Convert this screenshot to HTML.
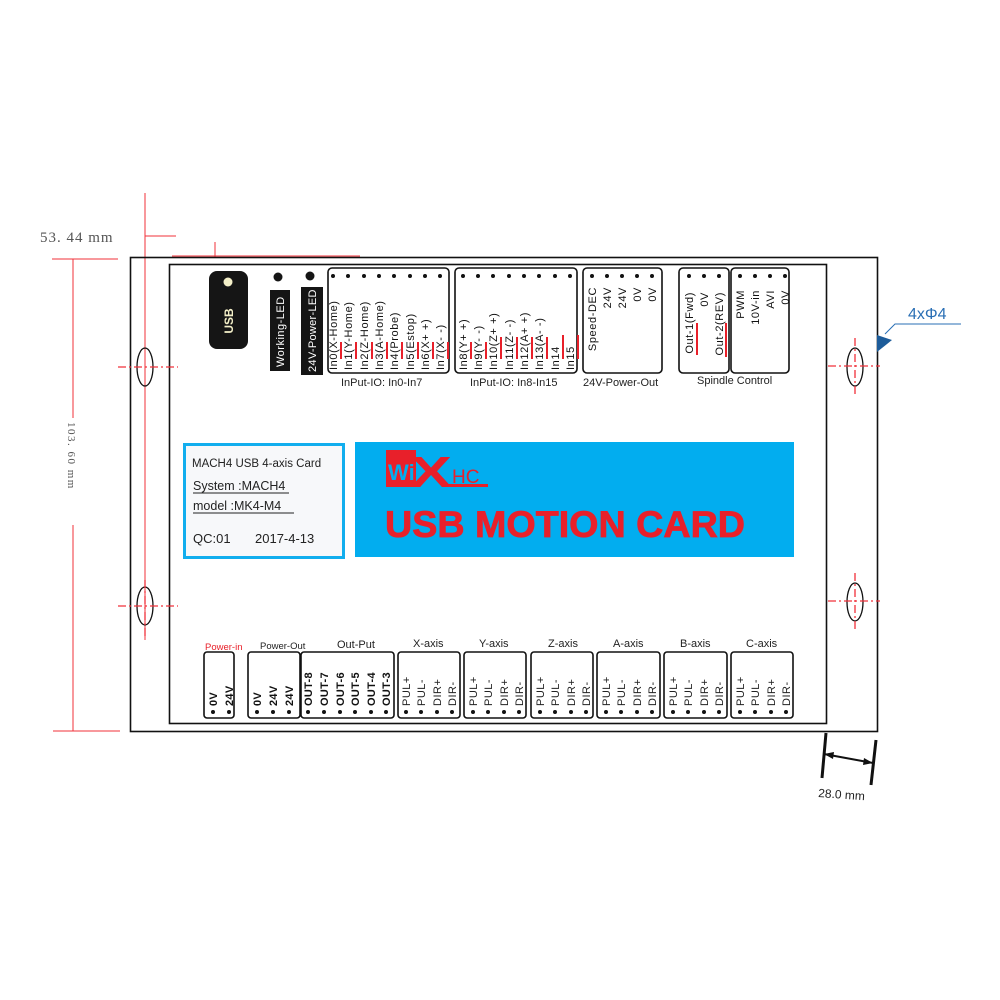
<!DOCTYPE html>
<html><head><meta charset="utf-8"><style>
html,body{margin:0;padding:0;background:#fff;}
svg{display:block}
.lbl{font-family:"Liberation Sans",sans-serif;font-size:11px;fill:#111;letter-spacing:0.6px;}
.b{font-family:"Liberation Sans",sans-serif;font-size:11px;font-weight:bold;fill:#111;letter-spacing:0.3px;}
</style></head><body>
<svg width="1000" height="1000" viewBox="0 0 1000 1000" xmlns="http://www.w3.org/2000/svg">
<g stroke="#f0303a" stroke-width="1" fill="none">
<line x1="145" y1="193" x2="145" y2="640"/>
<line x1="145" y1="236" x2="176" y2="236"/>
<line x1="172" y1="256" x2="360" y2="256"/>
<line x1="215" y1="242" x2="215" y2="257"/>
<line x1="52" y1="259" x2="118" y2="259"/>
<line x1="73" y1="259" x2="73" y2="418"/>
<line x1="73" y1="525" x2="73" y2="731"/>
<line x1="53" y1="731" x2="120" y2="731"/>
</g>
<text x="40" y="242" font-family="Liberation Serif,serif" font-size="15" fill="#555" letter-spacing="1">53. 44 mm</text>
<text transform="translate(68,422) rotate(90)" font-family="Liberation Serif,serif" font-size="11" fill="#555" letter-spacing="1.5">103. 60 mm</text>

<rect x="130.5" y="257.5" width="747" height="474" fill="none" stroke="#111" stroke-width="1.6"/>
<rect x="169.5" y="264.5" width="657" height="459" fill="none" stroke="#111" stroke-width="1.6"/>

<g fill="none">
<g stroke="#111" stroke-width="1.3">
<ellipse cx="145" cy="367" rx="8" ry="19"/><ellipse cx="145" cy="606" rx="8" ry="19"/>
<ellipse cx="855" cy="367" rx="8" ry="19"/><ellipse cx="855" cy="602" rx="8" ry="19"/>
</g>
<g stroke="#f0303a" stroke-width="1.3" stroke-dasharray="8,3,2,3">
<line x1="118" y1="367" x2="178" y2="367"/><line x1="118" y1="606" x2="178" y2="606"/>
<line x1="828" y1="366" x2="880" y2="366"/><line x1="828" y1="601" x2="880" y2="601"/>
<line x1="855" y1="338" x2="855" y2="394"/><line x1="855" y1="573" x2="855" y2="630"/>
<line x1="145" y1="580" x2="145" y2="636"/>
</g>
</g>

<text x="908" y="319" font-family="Liberation Sans,sans-serif" font-size="16" fill="#2a6fb5">4xΦ4</text>
<polyline points="961,324 895,324 885,334" fill="none" stroke="#2a6fb5" stroke-width="1"/>
<polygon points="877,335 892,340 877,352" fill="#1d5c9a"/>

<g stroke="#111" stroke-width="3">
<line x1="826" y1="733" x2="822" y2="778"/>
<line x1="876" y1="740" x2="871" y2="785"/>
<line x1="824" y1="754" x2="873" y2="763" stroke-width="2"/>
</g>
<polygon points="824,754 834,752 833,759" fill="#111"/>
<polygon points="873,763 863,765 864,758" fill="#111"/>
<text transform="translate(818,797) rotate(4)" font-family="Liberation Sans,sans-serif" font-size="12" fill="#222">28.0 mm</text>

<rect x="209" y="271" width="39" height="78" rx="8" fill="#151515"/>
<circle cx="228" cy="282" r="4.5" fill="#f3efc8"/>
<text transform="translate(233,321) rotate(-90)" text-anchor="middle" font-family="Liberation Sans,sans-serif" font-weight="bold" font-size="12" fill="#f3efc8">USB</text>
<circle cx="278" cy="277" r="4.5" fill="#151515"/>
<circle cx="310" cy="276" r="4.5" fill="#151515"/>
<rect x="270" y="290" width="20" height="81" fill="#151515"/>
<rect x="301" y="287" width="22" height="88" fill="#151515"/>
<text transform="translate(284,367) rotate(-90)" font-family="Liberation Sans,sans-serif" font-size="11" fill="#fff" letter-spacing="0.5">Working-LED</text>
<text transform="translate(316,372) rotate(-90)" font-family="Liberation Sans,sans-serif" font-size="11" fill="#fff" letter-spacing="0.3">24V-Power-LED</text>

<g fill="none" stroke="#111" stroke-width="1.6">
<rect x="328" y="268" width="121" height="105" rx="4"/>
<rect x="455" y="268" width="122" height="105" rx="4"/>
<rect x="583" y="268" width="79" height="105" rx="4"/>
<rect x="679" y="268" width="50" height="105" rx="4"/>
<rect x="731" y="268" width="58" height="105" rx="4"/>
</g>
<g fill="#111">
<circle cx="333" cy="276" r="2"/><circle cx="348" cy="276" r="2"/><circle cx="364" cy="276" r="2"/><circle cx="379" cy="276" r="2"/><circle cx="394" cy="276" r="2"/><circle cx="410" cy="276" r="2"/><circle cx="425" cy="276" r="2"/><circle cx="440" cy="276" r="2"/>
<circle cx="463" cy="276" r="2"/><circle cx="478" cy="276" r="2"/><circle cx="493" cy="276" r="2"/><circle cx="509" cy="276" r="2"/><circle cx="524" cy="276" r="2"/><circle cx="539" cy="276" r="2"/><circle cx="555" cy="276" r="2"/><circle cx="570" cy="276" r="2"/>
<circle cx="592" cy="276" r="2"/><circle cx="607" cy="276" r="2"/><circle cx="622" cy="276" r="2"/><circle cx="637" cy="276" r="2"/><circle cx="652" cy="276" r="2"/>
<circle cx="689" cy="276" r="2"/><circle cx="704" cy="276" r="2"/><circle cx="719" cy="276" r="2"/>
<circle cx="740" cy="276" r="2"/><circle cx="755" cy="276" r="2"/><circle cx="770" cy="276" r="2"/><circle cx="785" cy="276" r="2"/>
</g>
<g>
<text class="lbl" transform="translate(337,370) rotate(-90)">In0(X-Home)</text>
<text class="lbl" transform="translate(352,370) rotate(-90)">In1(Y-Home)</text>
<text class="lbl" transform="translate(368,370) rotate(-90)">In2(Z-Home)</text>
<text class="lbl" transform="translate(383,370) rotate(-90)">In3(A-Home)</text>
<text class="lbl" transform="translate(398,370) rotate(-90)">In4(Probe)</text>
<text class="lbl" transform="translate(414,370) rotate(-90)">In5(Estop)</text>
<text class="lbl" transform="translate(429,370) rotate(-90)">In6(X+ +)</text>
<text class="lbl" transform="translate(444,370) rotate(-90)">In7(X- -)</text>
<text class="lbl" transform="translate(467,370) rotate(-90)">In8(Y+ +)</text>
<text class="lbl" transform="translate(482,370) rotate(-90)">In9(Y- -)</text>
<text class="lbl" transform="translate(497,370) rotate(-90)">In10(Z+ +)</text>
<text class="lbl" transform="translate(513,370) rotate(-90)">In11(Z- -)</text>
<text class="lbl" transform="translate(528,370) rotate(-90)">In12(A+ +)</text>
<text class="lbl" transform="translate(543,370) rotate(-90)">In13(A- -)</text>
<text class="lbl" transform="translate(559,370) rotate(-90)">In14</text>
<text class="lbl" transform="translate(574,370) rotate(-90)">In15</text>
<text class="lbl" text-anchor="end" transform="translate(596,287) rotate(-90)">Speed-DEC</text>
<text class="lbl" text-anchor="end" transform="translate(611,287) rotate(-90)">24V</text>
<text class="lbl" text-anchor="end" transform="translate(626,287) rotate(-90)">24V</text>
<text class="lbl" text-anchor="end" transform="translate(641,287) rotate(-90)">0V</text>
<text class="lbl" text-anchor="end" transform="translate(656,287) rotate(-90)">0V</text>
<text class="lbl" text-anchor="end" transform="translate(693,292) rotate(-90)">Out-1(Fwd)</text>
<text class="lbl" text-anchor="end" transform="translate(708,292) rotate(-90)">0V</text>
<text class="lbl" text-anchor="end" transform="translate(723,292) rotate(-90)">Out-2(REV)</text>
<text class="lbl" text-anchor="end" transform="translate(744,290) rotate(-90)">PWM</text>
<text class="lbl" text-anchor="end" transform="translate(759,290) rotate(-90)">10V-in</text>
<text class="lbl" text-anchor="end" transform="translate(774,290) rotate(-90)">AVI</text>
<text class="lbl" text-anchor="end" transform="translate(789,290) rotate(-90)">0V</text>
</g>
<g stroke="#e8202a" stroke-width="2">
<line x1="341" y1="342" x2="341" y2="359"/><line x1="356" y1="342" x2="356" y2="359"/><line x1="372" y1="342" x2="372" y2="359"/><line x1="387" y1="342" x2="387" y2="359"/><line x1="402" y1="342" x2="402" y2="359"/><line x1="418" y1="342" x2="418" y2="359"/><line x1="433" y1="342" x2="433" y2="359"/><line x1="448" y1="342" x2="448" y2="359"/>
<line x1="471" y1="342" x2="471" y2="359"/><line x1="486" y1="342" x2="486" y2="359"/><line x1="501" y1="337" x2="501" y2="359"/><line x1="517" y1="337" x2="517" y2="359"/><line x1="532" y1="337" x2="532" y2="359"/><line x1="547" y1="337" x2="547" y2="359"/><line x1="563" y1="335" x2="563" y2="359"/><line x1="578" y1="335" x2="578" y2="359"/>
<line x1="697" y1="323" x2="697" y2="355"/><line x1="726" y1="323" x2="726" y2="357"/>
</g>
<g font-family="Liberation Sans,sans-serif" font-size="11" fill="#222">
<text x="341" y="386">InPut-IO: In0-In7</text>
<text x="470" y="386">InPut-IO: In8-In15</text>
<text x="583" y="386">24V-Power-Out</text>
<text x="697" y="384">Spindle Control</text>
</g>

<rect x="184.5" y="444.5" width="159" height="113" fill="#f7f8fa" stroke="#12aeee" stroke-width="3"/>
<g font-family="Liberation Sans,sans-serif" fill="#222">
<text x="192" y="467" font-size="11.5">MACH4 USB 4-axis Card</text>
<text x="193" y="490" font-size="12.5">System :MACH4</text>
<line x1="193" y1="493" x2="289" y2="493" stroke="#222" stroke-width="1"/>
<text x="193" y="510" font-size="12.5">model :MK4-M4</text>
<line x1="193" y1="513" x2="294" y2="513" stroke="#222" stroke-width="1"/>
<text x="193" y="543" font-size="13">QC:01</text>
<text x="255" y="543" font-size="13">2017-4-13</text>
</g>

<rect x="355" y="442" width="439" height="115" fill="#02adef"/>
<rect x="386" y="450" width="30" height="37" fill="#e8202a"/>
<text x="388" y="480" font-family="Liberation Sans,sans-serif" font-weight="bold" font-size="22" fill="#02adef">Wi</text>
<text x="410" y="487" font-family="Liberation Sans,sans-serif" font-weight="bold" font-size="44" fill="#e8202a" textLength="42" lengthAdjust="spacingAndGlyphs">X</text>
<text x="452" y="483" font-family="Liberation Sans,sans-serif" font-size="19" fill="#e8202a">HC</text>
<rect x="448" y="484" width="40" height="3" fill="#e8202a"/>
<text x="385" y="537" font-family="Liberation Sans,sans-serif" font-weight="bold" font-size="37" fill="#e8202a" stroke="#e8202a" stroke-width="0.8" textLength="360" lengthAdjust="spacingAndGlyphs">USB MOTION CARD</text>

<g fill="none" stroke="#111" stroke-width="1.6">
<rect x="204" y="652" width="30" height="66" rx="3"/>
<rect x="248" y="652" width="52" height="66" rx="3"/>
<rect x="301" y="652" width="93" height="66" rx="3"/>
<rect x="398" y="652" width="62" height="66" rx="3"/>
<rect x="464" y="652" width="62" height="66" rx="3"/>
<rect x="531" y="652" width="62" height="66" rx="3"/>
<rect x="597" y="652" width="63" height="66" rx="3"/>
<rect x="664" y="652" width="63" height="66" rx="3"/>
<rect x="731" y="652" width="62" height="66" rx="3"/>
</g>
<g font-family="Liberation Sans,sans-serif" font-size="10" fill="#222">
<text x="205" y="650" fill="#e8202a" font-size="9.5">Power-in</text>
<text x="260" y="649" font-size="9.5">Power-Out</text>
<text x="337" y="648" font-size="11">Out-Put</text>
<text x="413" y="647" font-size="11">X-axis</text>
<text x="479" y="647" font-size="11">Y-axis</text>
<text x="548" y="647" font-size="11">Z-axis</text>
<text x="613" y="647" font-size="11">A-axis</text>
<text x="680" y="647" font-size="11">B-axis</text>
<text x="746" y="647" font-size="11">C-axis</text>
</g>
<g>
<text class="b" transform="translate(217,706) rotate(-90)">0V</text>
<text class="b" transform="translate(233,706) rotate(-90)">24V</text>
<text class="b" transform="translate(261,706) rotate(-90)">0V</text>
<text class="b" transform="translate(277,706) rotate(-90)">24V</text>
<text class="b" transform="translate(293,706) rotate(-90)">24V</text>
<text class="b" transform="translate(312,706) rotate(-90)">OUT-8</text>
<text class="b" transform="translate(328,706) rotate(-90)">OUT-7</text>
<text class="b" transform="translate(344,706) rotate(-90)">OUT-6</text>
<text class="b" transform="translate(359,706) rotate(-90)">OUT-5</text>
<text class="b" transform="translate(375,706) rotate(-90)">OUT-4</text>
<text class="b" transform="translate(390,706) rotate(-90)">OUT-3</text>
</g>
<g font-family="Liberation Sans,sans-serif" font-size="11" fill="#222" letter-spacing="0.5">
<text transform="translate(410,706) rotate(-90)">PUL+</text><text transform="translate(425,706) rotate(-90)">PUL-</text><text transform="translate(441,706) rotate(-90)">DIR+</text><text transform="translate(456,706) rotate(-90)">DIR-</text>
<text transform="translate(477,706) rotate(-90)">PUL+</text><text transform="translate(492,706) rotate(-90)">PUL-</text><text transform="translate(508,706) rotate(-90)">DIR+</text><text transform="translate(523,706) rotate(-90)">DIR-</text>
<text transform="translate(544,706) rotate(-90)">PUL+</text><text transform="translate(559,706) rotate(-90)">PUL-</text><text transform="translate(575,706) rotate(-90)">DIR+</text><text transform="translate(590,706) rotate(-90)">DIR-</text>
<text transform="translate(610,706) rotate(-90)">PUL+</text><text transform="translate(625,706) rotate(-90)">PUL-</text><text transform="translate(641,706) rotate(-90)">DIR+</text><text transform="translate(656,706) rotate(-90)">DIR-</text>
<text transform="translate(677,706) rotate(-90)">PUL+</text><text transform="translate(692,706) rotate(-90)">PUL-</text><text transform="translate(708,706) rotate(-90)">DIR+</text><text transform="translate(723,706) rotate(-90)">DIR-</text>
<text transform="translate(744,706) rotate(-90)">PUL+</text><text transform="translate(759,706) rotate(-90)">PUL-</text><text transform="translate(775,706) rotate(-90)">DIR+</text><text transform="translate(790,706) rotate(-90)">DIR-</text>
</g>
<g fill="#111">
<circle cx="213" cy="712" r="2"/><circle cx="229" cy="712" r="2"/>
<circle cx="257" cy="712" r="2"/><circle cx="273" cy="712" r="2"/><circle cx="289" cy="712" r="2"/>
<circle cx="308" cy="712" r="2"/><circle cx="324" cy="712" r="2"/><circle cx="340" cy="712" r="2"/><circle cx="355" cy="712" r="2"/><circle cx="371" cy="712" r="2"/><circle cx="386" cy="712" r="2"/>
<circle cx="406" cy="712" r="2"/><circle cx="421" cy="712" r="2"/><circle cx="437" cy="712" r="2"/><circle cx="452" cy="712" r="2"/>
<circle cx="473" cy="712" r="2"/><circle cx="488" cy="712" r="2"/><circle cx="504" cy="712" r="2"/><circle cx="519" cy="712" r="2"/>
<circle cx="540" cy="712" r="2"/><circle cx="555" cy="712" r="2"/><circle cx="571" cy="712" r="2"/><circle cx="586" cy="712" r="2"/>
<circle cx="606" cy="712" r="2"/><circle cx="621" cy="712" r="2"/><circle cx="637" cy="712" r="2"/><circle cx="652" cy="712" r="2"/>
<circle cx="673" cy="712" r="2"/><circle cx="688" cy="712" r="2"/><circle cx="704" cy="712" r="2"/><circle cx="719" cy="712" r="2"/>
<circle cx="740" cy="712" r="2"/><circle cx="755" cy="712" r="2"/><circle cx="771" cy="712" r="2"/><circle cx="786" cy="712" r="2"/>
</g>
</svg>
</body></html>
